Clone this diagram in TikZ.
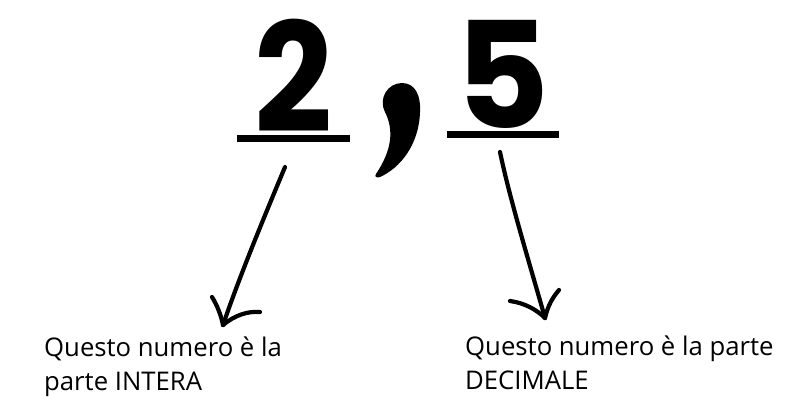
\documentclass[tikz,border=0pt]{standalone}
\usepackage{fontspec}
\setmainfont{Open Sans}
\newfontfamily\digitfont{Poppins}
\begin{document}
\begin{tikzpicture}[x=1pt,y=-1pt,
  digit/.style={inner sep=0pt, font=\digitfont\bfseries\fontsize{152}{152}\selectfont, anchor=base},
  uline/.style={line width=7pt},
  brush/.style={line width=4.2pt, line cap=round, line join=round},
  caption/.style={inner sep=0pt, align=left, anchor=base west, font=\fontsize{25.7}{33.5}\selectfont}]
\useasboundingbox (0,0) rectangle (811,416);
\node[digit, xscale=0.9] (two) at (293.5,132) {2};
\node[digit, xscale=0.98, font=\digitfont\bfseries\fontsize{148}{148}\selectfont] (five) at (502.5,128) {5};
\draw[uline] (237,138.5) coordinate (l1a) -- (350,138.5) coordinate (l1b);
\draw[uline] (447,134.5) coordinate (l2a) -- (559,134.5) coordinate (l2b);
% comma
\fill (376,174) .. controls (392,150) and (394,130) .. (385,112)
  .. controls (378,98) and (388,83) .. (402,83)
  .. controls (416,83) and (421,97) .. (420,112)
  .. controls (419,145) and (400,168) .. (380,177)
  .. controls (377,178) and (374,177) .. (376,174) -- cycle;
% captions
\node[caption] (capL) at (44,390) {Questo numero è la\\parte INTERA};
\node[caption] (capR) at (465,389) {Questo numero è la parte\\DECIMALE};
% arrows
\coordinate (aLs) at (285,167);
\coordinate (aLt) at (223,325);
\coordinate (aLb1) at (212,297);
\coordinate (aLb2) at (260,312);
\coordinate (aRs) at (500,152);
\coordinate (aRt) at (545,318);
\coordinate (aRb1) at (510,301);
\coordinate (aRb2) at (559,290);
\draw[brush] (aLs) .. controls (265,215) and (240,275) .. (aLt);
\draw[brush] (aLb1) .. controls (217,305) and (221,315) .. (aLt);
\draw[brush] (aLt) .. controls (235,315) and (248,311) .. (aLb2);
\draw[brush] (aRs) .. controls (510,200) and (530,265) .. (aRt);
\draw[brush] (aRb1) .. controls (525,303) and (537,310) .. (aRt);
\draw[brush] (aRt) .. controls (548,305) and (553,297) .. (aRb2);
\end{tikzpicture}
\end{document}
